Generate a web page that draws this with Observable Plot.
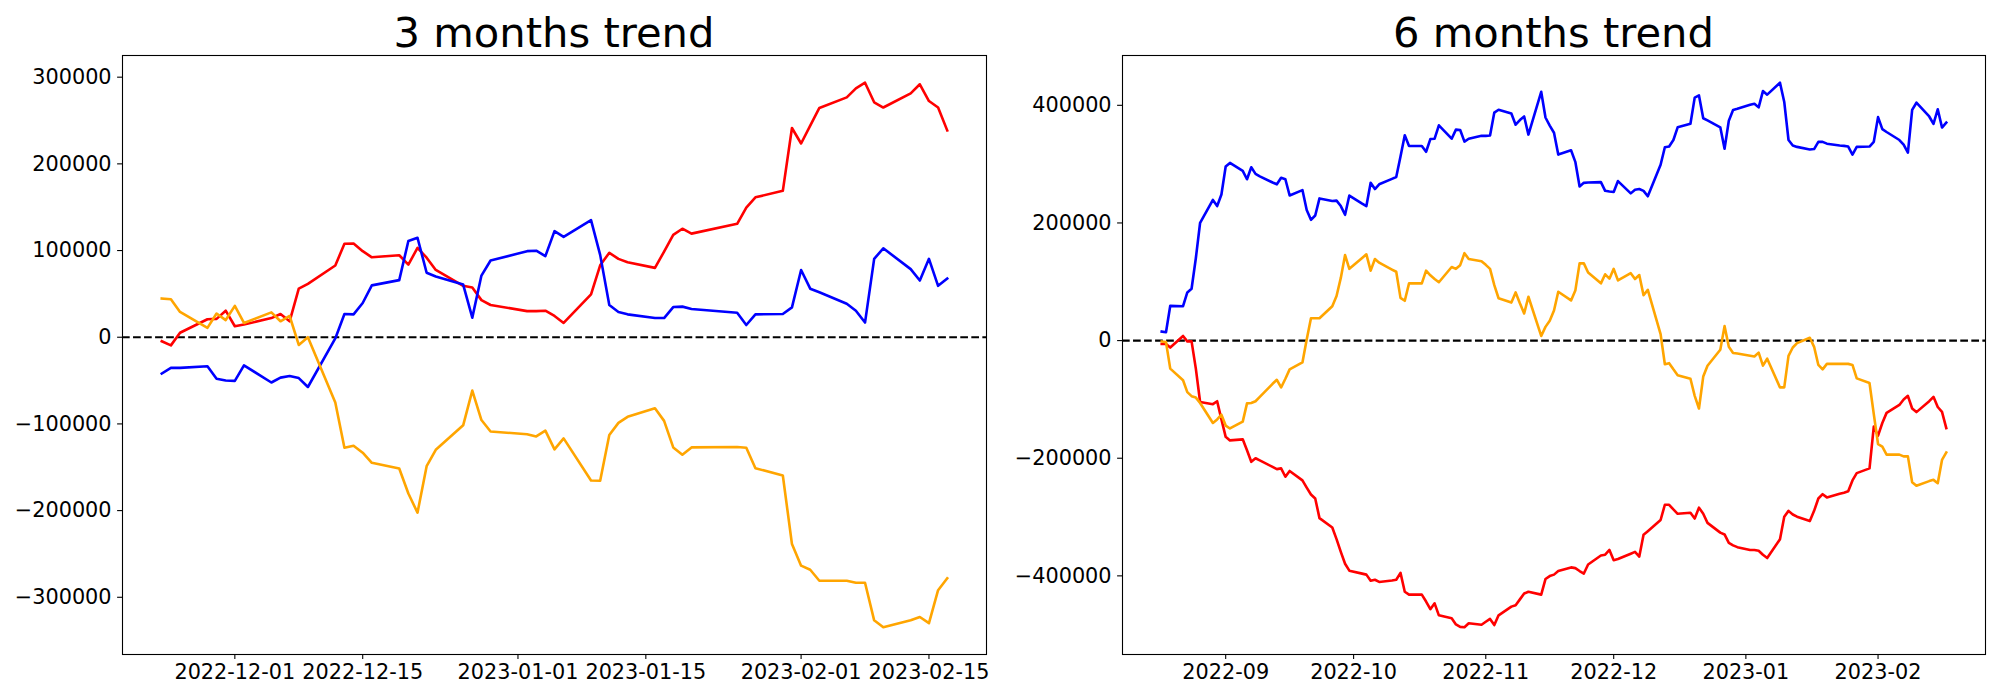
<!DOCTYPE html>
<html>
<head>
<meta charset="utf-8">
<script src="https://cdn.jsdelivr.net/npm/d3@7"></script>
<script src="https://cdn.jsdelivr.net/npm/@observablehq/plot@0.6"></script>
<style>
  html, body { margin: 0; padding: 0; background: #fff; }
  #fig { position: relative; width: 2000px; height: 700px; font-family: "DejaVu Sans", sans-serif; overflow: hidden; }
  .panel { position: absolute; top: 0; }
  .title { position: absolute; top: 11.5px; width: 700px; text-align: center; font-size: 41.67px; line-height: 41.67px; color: #000; white-space: nowrap; }
</style>
</head>
<body>
<div id="fig"></div>
<script>
// ---------- 3 months trend (left panel) ----------
const titles3 = "3 months trend";
const titles6 = "6 months trend";

const dates3 = [
  "2022-11-23","2022-11-24","2022-11-25","2022-11-28","2022-11-29","2022-11-30",
  "2022-12-01","2022-12-02","2022-12-05","2022-12-06","2022-12-07","2022-12-08","2022-12-09",
  "2022-12-12","2022-12-13","2022-12-14","2022-12-15","2022-12-16",
  "2022-12-19","2022-12-20","2022-12-21","2022-12-22","2022-12-23",
  "2022-12-26","2022-12-27","2022-12-28","2022-12-29",
  "2023-01-02","2023-01-03","2023-01-04","2023-01-05","2023-01-06",
  "2023-01-09","2023-01-10","2023-01-11","2023-01-12","2023-01-13",
  "2023-01-16","2023-01-17","2023-01-18","2023-01-19","2023-01-20",
  "2023-01-25","2023-01-26","2023-01-27","2023-01-30","2023-01-31",
  "2023-02-01","2023-02-02","2023-02-03",
  "2023-02-06","2023-02-07","2023-02-08","2023-02-09","2023-02-10",
  "2023-02-13","2023-02-14","2023-02-15","2023-02-16","2023-02-17"
];
const red3 = [
  -4700,-9400,5200,20700,21200,30600,
  12700,14600,22100,26800,18400,56000,61600,
  82800,107800,108200,99300,92200,
  94600,83800,103000,91800,77600,
  59300,57400,42800,37200,
  30100,30100,30600,24500,16500,
  49400,83000,97400,90400,86600,
  80000,98800,118000,125200,119500,
  130800,149600,161400,168900,241400,
  223500,244200,264500,
  276700,287100,293600,271000,265000,
  281400,291800,272500,265000,238600
];
const blue3 = [
  -41900,-35300,-35300,-33400,-48000,-49900,
  -50400,-32500,-52200,-46600,-44700,-47100,-57400,
  -1400,26800,26400,39500,59800,
  65900,111000,114800,74400,70100,
  60700,22600,71100,88500,
  99300,99800,93600,122400,115800,
  135100,95000,37200,29200,26400,
  22100,22100,34800,35300,32500,
  28200,14100,26400,26800,34400,
  77600,56000,51800,
  38600,30600,16900,90400,102600,
  78600,65400,90400,59300,67800
];
const orange3 = [
  44700,43800,29200,10800,27300,19800,
  36200,16500,28700,18400,24500,-8900,0,
  -75300,-127500,-125200,-133200,-144900,
  -151500,-180200,-202400,-148700,-129900,
  -101600,-61600,-95500,-108700,
  -112000,-114400,-107800,-129400,-116700,
  -165200,-165600,-112900,-98800,-91800,
  -81900,-96500,-127100,-135500,-127100,
  -126600,-127500,-151100,-159500,-238600,
  -263500,-268200,-280900,
  -280900,-283300,-283300,-326600,-334600,
  -326600,-322800,-329900,-291800,-278100
];
const xTicks3 = ["2022-12-01","2022-12-15","2023-01-01","2023-01-15","2023-02-01","2023-02-15"];
const yTicks3 = [-300000,-200000,-100000,0,100000,200000,300000];

// ---------- 6 months trend (right panel) ----------
const dates6 = [
  "2022-08-17","2022-08-18","2022-08-19",
  "2022-08-22","2022-08-23","2022-08-24","2022-08-25","2022-08-26",
  "2022-08-29","2022-08-30","2022-08-31","2022-09-01","2022-09-02",
  "2022-09-05","2022-09-06","2022-09-07","2022-09-08","2022-09-09",
  "2022-09-12","2022-09-13","2022-09-14","2022-09-15","2022-09-16",
  "2022-09-19","2022-09-20","2022-09-21","2022-09-22","2022-09-23",
  "2022-09-26","2022-09-27","2022-09-28","2022-09-29","2022-09-30",
  "2022-10-03","2022-10-04","2022-10-05","2022-10-06","2022-10-07",
  "2022-10-10","2022-10-11","2022-10-12","2022-10-13","2022-10-14",
  "2022-10-17","2022-10-18","2022-10-19","2022-10-20","2022-10-21",
  "2022-10-24","2022-10-25","2022-10-26","2022-10-27","2022-10-28",
  "2022-10-31","2022-11-01","2022-11-02","2022-11-03","2022-11-04",
  "2022-11-07","2022-11-08","2022-11-09","2022-11-10","2022-11-11",
  "2022-11-14","2022-11-15","2022-11-16","2022-11-17","2022-11-18",
  "2022-11-21","2022-11-22","2022-11-23","2022-11-24","2022-11-25",
  "2022-11-28","2022-11-29","2022-11-30","2022-12-01","2022-12-02",
  "2022-12-05","2022-12-06","2022-12-07","2022-12-08","2022-12-09",
  "2022-12-12","2022-12-13","2022-12-14","2022-12-15","2022-12-16",
  "2022-12-19","2022-12-20","2022-12-21","2022-12-22","2022-12-23",
  "2022-12-26","2022-12-27","2022-12-28","2022-12-29","2022-12-30",
  "2023-01-02","2023-01-03","2023-01-04","2023-01-05","2023-01-06",
  "2023-01-09","2023-01-10","2023-01-11","2023-01-12","2023-01-13",
  "2023-01-16","2023-01-17","2023-01-18","2023-01-19","2023-01-20",
  "2023-01-23","2023-01-24","2023-01-25","2023-01-26","2023-01-27",
  "2023-01-30","2023-01-31","2023-02-01","2023-02-02","2023-02-03",
  "2023-02-06","2023-02-07","2023-02-08","2023-02-09","2023-02-10",
  "2023-02-13","2023-02-14","2023-02-15","2023-02-16","2023-02-17"
];
const blue6 = [
  15300,14100,59100,
  58500,81900,88100,140000,200300,
  239200,228700,248400,295900,302100,
  288500,274300,294600,283500,279200,
  268800,265700,276800,274300,246600,
  255900,222000,205300,212700,241700,
  237300,238000,228700,213900,246600,
  233000,228700,268200,257700,265700,
  275000,278000,313000,349000,330900,
  330900,321000,342600,343200,366000,
  343200,358600,358000,338300,343200,
  348100,348000,348700,387600,392500,
  386000,367000,375000,381000,350200,
  423000,379300,365600,353300,316200,
  323600,303900,262000,268200,268800,
  269400,254600,253400,252700,271200,
  250300,256500,257700,254600,245300,
  299000,328600,329900,341000,362600,
  368700,413100,416800,378000,374300,
  362600,326200,373700,392100,394000,
  400800,402700,396500,424200,418100,
  438400,405700,341000,331700,329300,
  325000,325600,337900,337900,334800,
  331700,331000,329900,316300,329300,
  329900,337900,379900,359500,354600,
  341000,333000,319400,392100,404400,
  381000,368400,393300,362200,370500
];
const orange6 = [
  -1400,-2600,-47600,
  -67400,-87700,-94500,-96900,-106200,
  -140100,-134000,-126000,-144500,-149400,
  -137700,-106800,-106200,-103100,-95700,
  -73500,-66700,-79700,-64900,-48900,
  -37100,1700,38100,38100,38100,
  58500,75700,106600,145400,122000,
  140500,146700,118900,138700,132500,
  120800,117000,72600,67700,97300,
  97300,118900,110900,104700,99200,
  125100,122000,128200,148600,138700,
  135000,128800,122000,94200,72000,
  64600,81900,63400,46100,74500,
  7900,23300,33800,51100,83100,
  68300,85000,131300,131300,115800,
  97300,112700,105300,122000,102300,
  114600,104700,111500,77000,86200,
  11000,-40200,-38400,-48900,-58800,
  -64900,-93900,-115500,-61200,-42700,
  -15500,24600,-10600,-21000,-22100,
  -25900,-27100,-20400,-42600,-30800,
  -79600,-79600,-25900,-11800,-4400,
  4800,-10600,-41400,-48900,-39600,
  -39600,-39600,-39600,-41400,-64200,
  -72200,-125000,-175900,-180200,-193800,
  -193800,-196900,-196900,-240700,-246900,
  -238900,-236800,-242400,-202900,-190400
];
const red6 = [
  -5700,-5700,-11800,
  7900,-1400,-1400,-47600,-104400,
  -108100,-103100,-134000,-163600,-169700,
  -167900,-186400,-206100,-200000,-203700,
  -214800,-218500,-217300,-231500,-221600,
  -237700,-250000,-261700,-268500,-301800,
  -317800,-337600,-359200,-379500,-391200,
  -396200,-397900,-408400,-406600,-410300,
  -407800,-406600,-394900,-427000,-431900,
  -431900,-443600,-456600,-446700,-467100,
  -472000,-482500,-486800,-487400,-480600,
  -483100,-478100,-473200,-483700,-467100,
  -452300,-449800,-440000,-430100,-427000,
  -431900,-405400,-400400,-397900,-391800,
  -385600,-386800,-391800,-396100,-380700,
  -365300,-364000,-356000,-373300,-371400,
  -362300,-359200,-367200,-330200,-324100,
  -305000,-279100,-279100,-287100,-294500,
  -292600,-302500,-284000,-294500,-309900,
  -326500,-329600,-343800,-348100,-351200,
  -356100,-356100,-357400,-364200,-369700,
  -337600,-299400,-289500,-295700,-299400,
  -306800,-289500,-268500,-261100,-266600,
  -260400,-258600,-256100,-237700,-225300,
  -217300,-146300,-161700,-140100,-122900,
  -109400,-100100,-93900,-115500,-121600,
  -103000,-95600,-112900,-121200,-148900
];
const xTicks6 = ["2022-09-01","2022-10-01","2022-11-01","2022-12-01","2023-01-01","2023-02-01"];
const yTicks6 = [-400000,-200000,0,200000,400000];

const seriesColors = {red: "red", blue: "blue", orange: "orange"};

// ---------- helpers ----------
const parse = d3.utcParse("%Y-%m-%d");
const fmtNum = d3.format("d"); // uses U+2212 minus like matplotlib

function padDomain(lo, hi, frac = 0.05) {
  const r = hi - lo;
  return [lo - r * frac, hi + r * frac];
}

function makePanel({dates, series, xTicks, yTicks, xFormat, left, marginRight}) {
  const ds = dates.map(parse);
  const rows = [];
  for (const s of series) {
    s.values.forEach((v, i) => rows.push({date: ds[i], value: v, name: s.name}));
  }
  const t0 = +d3.min(ds), t1 = +d3.max(ds);
  const [xa, xb] = padDomain(t0, t1);
  const allV = rows.map(r => r.value);
  const yDom = padDomain(d3.min(allV), d3.max(allV));

  const marks = [
    Plot.ruleY([0], {stroke: "black", strokeWidth: 2.08, strokeDasharray: "7.7,3.33"}),
  ];
  for (const s of series) {
    marks.push(Plot.line(rows.filter(r => r.name === s.name),
      {x: "date", y: "value", stroke: s.color, strokeWidth: 2.6, strokeLinejoin: "round", strokeLinecap: "square"}));
  }
  marks.push(
    Plot.frame({stroke: "black", strokeWidth: 1.1}),
    Plot.axisX({ticks: xTicks.map(parse), tickFormat: d3.utcFormat(xFormat), tickSize: 4.9, tickPadding: 5, label: null, strokeWidth: 1.1}),
    Plot.axisY({ticks: yTicks, tickFormat: fmtNum, tickSize: 4.9, tickPadding: 6, label: null, strokeWidth: 1.1})
  );

  const svg = Plot.plot({
    width: 1000,
    height: 700,
    marginLeft: 122,
    marginRight: marginRight,
    marginTop: 55,
    marginBottom: 46,
    x: {type: "utc", domain: [new Date(xa), new Date(xb)]},
    y: {type: "linear", domain: yDom},
    style: {fontFamily: "DejaVu Sans, sans-serif", fontSize: "20.8px", color: "black", background: "white", overflow: "visible"},
    marks
  });
  const wrap = document.createElement("div");
  wrap.className = "panel";
  wrap.style.left = left + "px";
  wrap.appendChild(svg);
  return wrap;
}

const fig = document.getElementById("fig");

fig.appendChild(makePanel({
  dates: dates3,
  series: [
    {name: "red", values: red3, color: seriesColors.red},
    {name: "blue", values: blue3, color: seriesColors.blue},
    {name: "orange", values: orange3, color: seriesColors.orange}
  ],
  xTicks: xTicks3, yTicks: yTicks3, xFormat: "%Y-%m-%d", left: 0, marginRight: 14
}));

fig.appendChild(makePanel({
  dates: dates6,
  series: [
    {name: "red", values: red6, color: seriesColors.red},
    {name: "blue", values: blue6, color: seriesColors.blue},
    {name: "orange", values: orange6, color: seriesColors.orange}
  ],
  xTicks: xTicks6, yTicks: yTicks6, xFormat: "%Y-%m", left: 1000, marginRight: 15
}));

function addTitle(text, centerX) {
  const t = document.createElement("div");
  t.className = "title";
  t.textContent = text;
  t.style.left = (centerX - 350) + "px";
  fig.appendChild(t);
}
addTitle(titles3, 554);
addTitle(titles6, 1553.5);
</script>
</body>
</html>
